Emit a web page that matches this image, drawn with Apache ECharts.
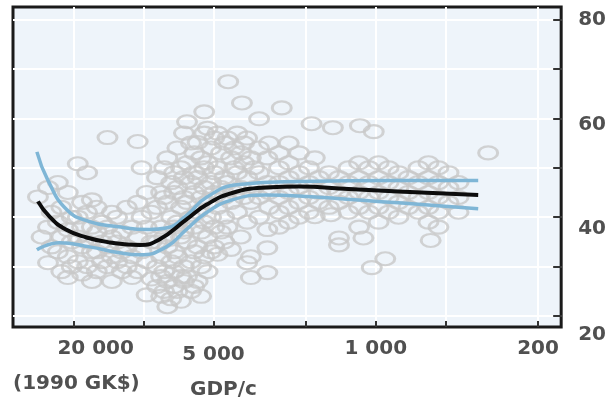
<!DOCTYPE html>
<html>
<head>
<meta charset="utf-8">
<script src="https://cdn.jsdelivr.net/npm/echarts@6/dist/echarts.min.js"></script>
<style>
  html, body { margin: 0; padding: 0; background: #fff; }
  #chart { width: 609px; height: 405px; }
</style>
</head>
<body>
<div id="chart"></div>
<script>
// GDP per capita (1990 GK$) ticks and labels, y ticks
var tickGdp = [20000, 10000, 5000, 2000, 1000, 500, 200];
var labelGdp = [20000, 5000, 1000, 200];
var yTicks = [20, 30, 40, 50, 60, 70, 80];
var yLabels = [20, 40, 60, 80];

// scatter: [gdp, [values...]] read column by column
var pointCols = [
  [28500, [44.1]], [27500, [36]],
  [25800, [46, 38, 30.8]], [24900, [41, 34]],
  [23400, [47, 39, 33]], [22600, [42, 36, 29]],
  [21200, [45, 37.5, 32, 27.8]], [20400, [40, 35, 30]],
  [19200, [50.8, 40, 36, 31]], [18400, [43, 38, 34, 28.5]],
  [17500, [49, 41, 35, 30]], [16700, [43.5, 38, 33, 27]],
  [15900, [42, 37, 33, 29]], [15100, [39, 35, 31]],
  [14300, [56.1, 38, 34, 30]], [13700, [41, 36, 32, 27]],
  [13000, [40, 35, 31]], [12400, [37, 33, 29]],
  [11800, [42, 34, 30]], [11200, [38, 32, 27.8]],
  [10600, [55.3, 43, 36, 29]], [10200, [50, 40, 33]],
  [9700, [45, 38, 31, 24.3]], [9250, [41, 35, 27.5]],
  [8750, [48, 42, 35, 30, 26]], [8400, [45, 38, 32, 28, 24]],
  [8150, [50, 44, 36, 29, 25]],
  [7900, [52, 43, 34, 27, 21.9]], [7600, [47, 40, 31, 23.5]],
  [7380, [49, 45, 38, 33, 29, 26]],
  [7150, [54, 46, 39, 32, 25]], [6900, [50, 42, 36, 28, 23]],
  [6700, [57, 48, 44, 37, 30, 27]],
  [6500, [59.3, 51, 43, 35, 28]], [6250, [55, 47, 40, 31, 25]],
  [6050, [53, 49, 45, 38, 33, 26]],
  [5850, [55.1, 48, 41, 34, 27]], [5650, [52, 44, 37, 30, 24]],
  [5480, [61.3, 57, 50, 46, 39, 32]],
  [5300, [58, 51, 43, 36, 29]], [5120, [54, 47, 40, 33]],
  [4960, [56, 49, 45, 38, 34]],
  [4800, [57, 50, 42, 32.5]], [4640, [53, 46, 37]],
  [4490, [55, 48, 44, 40, 35]],
  [4320, [67.4]],
  [4350, [56, 47, 38]], [4200, [52, 43, 33.5]],
  [4070, [54, 50, 45]],
  [3950, [57, 49, 41]], [3810, [53, 46, 36]],
  [3770, [63.1]],
  [3690, [55, 51, 44]],
  [3580, [56, 48, 39, 30.8]], [3450, [52, 43, 32, 27.8]],
  [3340, [50, 46]],
  [3180, [59.9, 54, 49, 44, 40]],
  [2930, [52, 47, 37.5, 33.8, 28.8]],
  [2880, [55, 45, 42]],
  [2610, [53, 50, 47, 44, 41, 38]],
  [2540, [62.1]],
  [2370, [55, 51, 48, 45, 42, 39]],
  [2140, [53, 49, 46, 43, 40]],
  [1940, [50, 47, 44, 41]],
  [1890, [58.9]],
  [1830, [52, 40.1]],
  [1760, [48, 45, 43]],
  [1590, [49, 46, 42]],
  [1560, [40.5]],
  [1530, [58.1]],
  [1440, [48, 45, 43, 35.8, 34.4]],
  [1310, [50, 47, 44, 41]],
  [1180, [51, 48, 45, 42, 38]],
  [1170, [58.5]],
  [1130, [35.8]],
  [1070, [50, 47, 44, 41]],
  [1040, [29.8]],
  [1020, [57.3]],
  [972, [51, 48, 45, 42, 39]],
  [910, [31.6]],
  [880, [50, 47, 44, 41]],
  [798, [49, 46, 43, 40]],
  [723, [48, 45, 42]],
  [655, [50, 47, 44, 41]],
  [593, [51, 48, 45, 42, 39]],
  [580, [35.3]],
  [537, [50, 47, 44, 41, 38]],
  [486, [49, 46, 43]],
  [440, [47, 44, 41]],
  [328, [53]]
];

// smoothed fit and its band
var fitLine = [[28500, 43.2], [25400, 40.1], [21600, 37.5], [17600, 35.9], [14000, 34.9],
  [10400, 34.4], [8550, 35.5], [6550, 39.5], [5370, 42.5], [4155, 44.9], [2970, 46.0],
  [2145, 46.2], [1310, 45.7], [798, 45.2], [362, 44.5]];
var bandUpper = [[28800, 53.2], [25900, 47.6], [21400, 41.5], [17100, 39.1], [13100, 38.1],
  [9450, 37.5], [8000, 37.8], [6550, 40.3], [5370, 44.0], [3880, 46.6], [2145, 47.2],
  [798, 47.4], [362, 47.4]];
var bandLower = [[28800, 33.4], [23000, 34.85], [17100, 34.0], [12700, 32.8], [10400, 32.4],
  [7980, 34.0], [6550, 37.5], [5370, 40.9], [4155, 43.5], [2970, 44.5], [2145, 44.3],
  [798, 42.9], [362, 41.7]];

var xMin = 159, xMax = 36500;

var points = [];
pointCols.forEach(function (c) {
  c[1].forEach(function (v) { points.push([c[0], v]); });
});

var font = 'DejaVu Sans';
var txt = '#505050';

function fmtGdp(v) {
  var g = Math.round(Math.pow(10, v));
  var s = g >= 1000 ? Math.floor(g / 1000) + ' ' + String(g % 1000).padStart(3, '0') : String(g);
  return '{l' + g + '|' + s + '}';
}
function lab(extra) {
  var o = { fontFamily: font, fontSize: 20, fontWeight: 'bold', color: txt };
  for (var k in extra) o[k] = extra[k];
  return o;
}

var myChart = echarts.init(document.getElementById('chart'));
var option = {
  animation: false,
  backgroundColor: '#fff',
  grid: {
    left: 13, right: 45, top: 7, bottom: 78,
    show: true,
    backgroundColor: '#eef4fa',
    borderColor: '#1a1a1a',
    borderWidth: 3
  },
  xAxis: [
    {
      type: 'log', logBase: 10, min: xMin, max: xMax, inverse: true, show: false
    },
    {
      type: 'value', position: 'bottom',
      min: Math.log10(xMin), max: Math.log10(xMax), inverse: true,
      axisLine: { show: false },
      axisTick: {
        inside: true, length: 6,
        customValues: tickGdp.map(function (g) { return Math.log10(g); }),
        lineStyle: { color: '#333', width: 2 }
      },
      splitLine: { show: true, lineStyle: { color: '#fff', width: 2 } },
      axisLabel: {
        customValues: labelGdp.map(function (g) { return Math.log10(g); }),
        margin: 12,
        formatter: fmtGdp,
        rich: {
          l20000: lab({ padding: [0, 0, 0, 44] }),
          l5000: lab({ padding: [6, 0, 0, 0] }),
          l1000: lab({}),
          l200: lab({})
        }
      }
    }
  ],
  yAxis: {
    type: 'value', position: 'right', min: 17.8, max: 82.5,
    axisLine: { show: false },
    axisTick: {
      inside: true, length: 8, customValues: yTicks,
      lineStyle: { color: '#333', width: 2 }
    },
    splitLine: { show: true, lineStyle: { color: '#fff', width: 2 } },
    axisLabel: {
      customValues: yLabels,
      margin: 17,
      formatter: function (v) { return '{y' + v + '|' + v + '}'; },
      rich: {
        y80: lab({}),
        y60: lab({ padding: [14, 0, 0, 0] }),
        y40: lab({ padding: [24, 0, 0, 0] }),
        y20: lab({ padding: [38, 0, 0, 0] })
      }
    }
  },
  graphic: [
    { type: 'text', left: 13, top: 374, style: { text: '(1990 GK$)', font: 'bold 20px "DejaVu Sans"', fill: txt } },
    { type: 'text', left: 190, top: 380, style: { text: 'GDP/c', font: 'bold 20px "DejaVu Sans"', fill: txt } }
  ],
  series: [
    {
      type: 'scatter', xAxisIndex: 0, data: points,
      symbol: 'circle', symbolSize: [19, 13], z: 2,
      itemStyle: { color: 'rgba(0,0,0,0)', borderColor: '#c8c8c8', borderWidth: 2.5 }
    },
    {
      type: 'line', xAxisIndex: 0, data: bandUpper, smooth: true, showSymbol: false, z: 3,
      lineStyle: { color: '#7fb6d6', width: 3.5 }
    },
    {
      type: 'line', xAxisIndex: 0, data: bandLower, smooth: true, showSymbol: false, z: 3,
      lineStyle: { color: '#7fb6d6', width: 3.5 }
    },
    {
      type: 'line', xAxisIndex: 0, data: fitLine, smooth: true, showSymbol: false, z: 4,
      lineStyle: { color: '#0d0d0d', width: 4 }
    }
  ]
};
myChart.setOption(option);
</script>
</body>
</html>
